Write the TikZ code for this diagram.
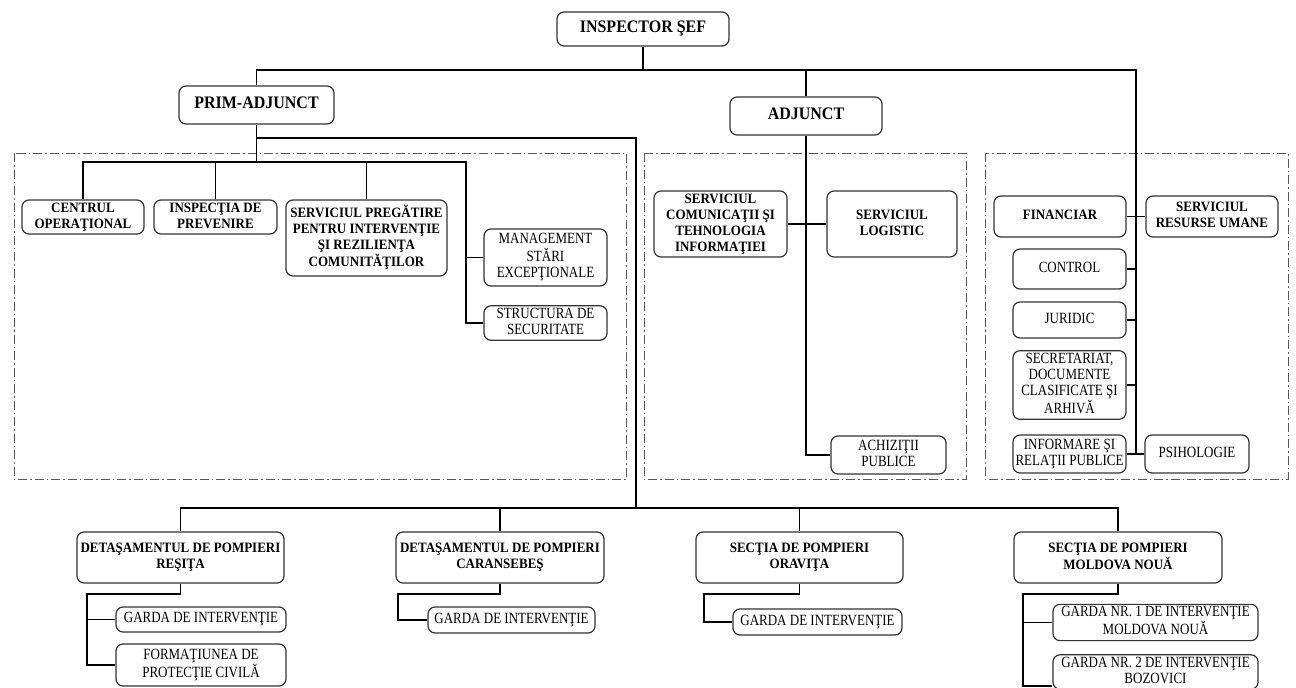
\documentclass[tikz,border=0pt]{standalone}
\usepackage{fontspec}
\usepackage{graphicx}
\setmainfont{Liberation Serif}
\usetikzlibrary{calc}
\newcommand\vt[2][1.2]{\scalebox{1}[#1]{\begin{tabular}{@{}c@{}}#2\end{tabular}}}
\newcommand\vb[1]{\vt[1.1]{#1}}
\tikzset{
 bx/.style={draw=black!80, line width=1.2pt, rounded corners=7pt, inner sep=1pt, fill=white, font=\fontsize{13}{13.5}\selectfont},
 bxb/.style={bx, font=\fontsize{13}{14.5}\selectfont\bfseries},
 bxt/.style={bx, font=\fontsize{16}{18}\selectfont\bfseries},
 cn/.style={draw=black, line width=1.1pt},
 panel/.style={draw=black!65, line width=1pt, dash pattern=on 9pt off 3pt on 1.5pt off 3pt},
}
\begin{document}
\begin{tikzpicture}[x=1pt,y=-1pt]
\useasboundingbox (0,0) rectangle (1296,688);
\fill[white] (0,0) rectangle (1296,688);
% panels
\draw[panel] (14,153) rectangle (626,479);
\draw[panel] (644,153) rectangle (966,479);
\draw[panel] (985,153) rectangle (1288,479);

% top level
\node[bxt, minimum width=172pt, minimum height=34pt] (insp) at (643,29) {\vb{INSPECTOR ŞEF}};
\node[bxt, minimum width=155pt, minimum height=38pt] (prim) at (256.5,105) {\vb{PRIM-ADJUNCT}};
\node[bxt, minimum width=152pt, minimum height=38pt] (adj) at (806,116) {\vb{ADJUNCT}};

% left panel
\node[bxb, minimum width=122pt, minimum height=34pt] (cen) at (83,217) {\vb{CENTRUL\\OPERAŢIONAL}};
\node[bxb, minimum width=123pt, minimum height=34pt] (insprev) at (215.5,217) {\vb{INSPECŢIA DE\\PREVENIRE}};
\node[bxb, minimum width=161pt, minimum height=76pt] (spir) at (366.5,238) {\vb{SERVICIUL PREGĂTIRE\\PENTRU INTERVENŢIE\\ŞI REZILIENŢA\\COMUNITĂŢILOR}};
\node[bx, minimum width=123pt, minimum height=57pt] (mse) at (545.5,257.5) {\vt{MANAGEMENT\\STĂRI\\EXCEPŢIONALE}};
\node[bx, minimum width=123pt, minimum height=34pt] (sds) at (545.5,323) {\vt{STRUCTURA DE\\SECURITATE}};

% middle panel
\node[bxb, minimum width=133pt, minimum height=66pt] (scti) at (720.5,224) {\vb{SERVICIUL\\COMUNICAŢII ŞI\\TEHNOLOGIA\\INFORMAŢIEI}};
\node[bxb, minimum width=130pt, minimum height=66pt] (slog) at (892,224) {\vb{SERVICIUL\\LOGISTIC}};
\node[bx, minimum width=115pt, minimum height=38pt] (ach) at (888.5,455) {\vt{ACHIZIŢII\\PUBLICE}};

% right panel
\node[bxb, minimum width=132pt, minimum height=41pt] (fin) at (1060,216.5) {\vb{FINANCIAR}};
\node[bxb, minimum width=132pt, minimum height=41pt] (sru) at (1212,216.5) {\vb{SERVICIUL\\RESURSE UMANE}};
\node[bx, minimum width=113pt, minimum height=40pt] (ctrl) at (1069.5,269) {\vt{CONTROL}};
\node[bx, minimum width=113pt, minimum height=36pt] (jur) at (1069.5,320) {\vt{JURIDIC}};
\node[bx, minimum width=113pt, minimum height=66pt] (sec) at (1069.5,385) {\vt{SECRETARIAT,\\DOCUMENTE\\CLASIFICATE ŞI\\ARHIVĂ}};
\node[bx, minimum width=113pt, minimum height=38pt] (inf) at (1069.5,454) {\vt{INFORMARE ŞI\\RELAŢII PUBLICE}};
\node[bx, minimum width=104pt, minimum height=38pt] (psi) at (1197,454) {\vt{PSIHOLOGIE}};

% bottom
\node[bxb, minimum width=207pt, minimum height=51pt] (dres) at (180.5,557.5) {\vb{DETAŞAMENTUL DE POMPIERI\\REŞIŢA}};
\node[bx, minimum width=170pt, minimum height=25pt] (g1) at (201,619.5) {\vt{GARDA DE INTERVENŢIE}};
\node[bx, minimum width=170pt, minimum height=42pt] (fpc) at (201,665) {\vt{FORMAŢIUNEA DE\\PROTECŢIE CIVILĂ}};
\node[bxb, minimum width=208pt, minimum height=51pt] (dcar) at (500,557.5) {\vb{DETAŞAMENTUL DE POMPIERI\\CARANSEBEŞ}};
\node[bx, minimum width=167pt, minimum height=26pt] (g2) at (511.5,620) {\vt{GARDA DE INTERVENŢIE}};
\node[bxb, minimum width=207pt, minimum height=51pt] (sor) at (799.5,557.5) {\vb{SECŢIA DE POMPIERI\\ORAVIŢA}};
\node[bx, minimum width=169pt, minimum height=26pt] (g3) at (817.5,622) {\vt{GARDA DE INTERVENŢIE}};
\node[bxb, minimum width=208pt, minimum height=51pt] (smn) at (1118,557.5) {\vb{SECŢIA DE POMPIERI\\MOLDOVA NOUĂ}};
\node[bx, minimum width=205pt, minimum height=35pt] (gm1) at (1155.5,622.5) {\vt{GARDA NR. 1 DE INTERVENŢIE\\MOLDOVA NOUĂ}};
\node[bx, minimum width=205pt, minimum height=32pt] (gm2) at (1155.5,672) {\vt{GARDA NR. 2 DE INTERVENŢIE\\BOZOVICI}};

% junction coordinates
\coordinate (b1) at (643,70);
\coordinate (rv) at (1136,454);
\coordinate (lb) at (256.5,162);
\coordinate (lv) at (466,323);
\coordinate (pb) at (256.5,138);
\coordinate (bb) at (636,508);
\coordinate (d1) at (87,594);
\coordinate (d2) at (398,594);
\coordinate (d3) at (704,594);
\coordinate (d4) at (1023,594);

% top connectors
\draw[cn] (insp.south) -- (b1);
\draw[cn] (prim.north) |- (b1);
\draw[cn] (b1) -| (rv);
\draw[cn] (adj.north) -- (adj.north |- b1);

% left panel connectors
\draw[cn] (prim.south) -- (lb);
\draw[cn] (cen.north) |- (lb);
\draw[cn] (insprev.north) -- (insprev.north |- lb);
\draw[cn] (lb) -| (spir.north);
\draw[cn] (spir.north |- lb) -| (lv) -- (sds.west);
\draw[cn] (mse.west) -- (mse.west -| lv);

% middle connectors
\draw[cn] (adj.south) |- (ach.west);
\draw[cn] (scti.east) -- (slog.west);

% right connectors
\draw[cn] (fin.east) -- (sru.west);
\draw[cn] (ctrl.east) -- (ctrl.east -| rv);
\draw[cn] (jur.east) -- (jur.east -| rv);
\draw[cn] (sec.east) -- (sec.east -| rv);
\draw[cn] (inf.east) -- (psi.west);

% bottom bus
\draw[cn] (pb) -| (bb);
\draw[cn] (dres.north) |- (bb);
\draw[cn] (bb) -| (smn.north);
\draw[cn] (dcar.north) -- (dcar.north |- bb);
\draw[cn] (sor.north) -- (sor.north |- bb);

% subordinate connectors
\draw[cn] (dres.south) |- (d1) |- (fpc.west);
\draw[cn] (g1.west) -- (g1.west -| d1);
\draw[cn] (dcar.south) |- (d2) |- (g2.west);
\draw[cn] (sor.south) |- (d3) |- (g3.west);
\draw[cn] (smn.south) |- (d4) |- ([yshift=-14pt]gm2.west);
\draw[cn] (gm1.west) -- (gm1.west -| d4);
\end{tikzpicture}
\end{document}
